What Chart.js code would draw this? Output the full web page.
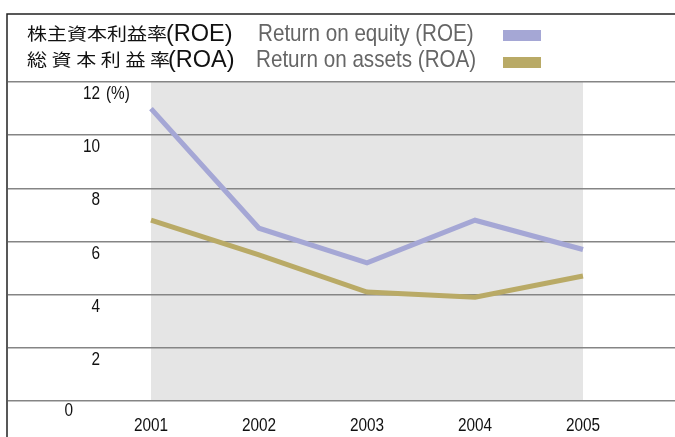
<!DOCTYPE html>
<html>
<head>
<meta charset="utf-8">
<script src="https://cdn.jsdelivr.net/npm/chart.js@4/dist/chart.umd.min.js"></script>
<style>
  html, body { margin: 0; padding: 0; background: #fff; }
  #wrap { position: relative; width: 675px; height: 437px; overflow: hidden; }
  canvas { position: absolute; left: 0; top: 0; }
  .lg { position: absolute; white-space: nowrap; line-height: 26px; transform-origin: 0 50%; }
  .en { font-family: "Liberation Sans", sans-serif; font-size: 24px; transform: scaleX(0.86); }
  .jp { font-family: "Noto Sans CJK JP", sans-serif; font-size: 20px; color: #111; transform: scaleY(0.85); }
  .gray { color: #666; }
  .dark { color: #111; transform: scaleX(0.98); }
  .sw { position: absolute; width: 38px; height: 11px; }
</style>
</head>
<body>
<div id="wrap">
  <canvas id="chart" width="675" height="437"></canvas>
  <div class="lg jp" style="left:27px; top:20px;">株主資本利益率</div>
  <div class="lg en dark" style="left:166px; top:20px;">(ROE)</div>
  <div class="lg en gray" style="left:258px; top:20px;">Return on equity (ROE)</div>
  <div class="sw" style="left:503px; top:30px; background:#a5a7d5;"></div>
  <div class="lg jp" style="left:27px; top:46px; letter-spacing:4.6px;">総資本利益率</div>
  <div class="lg en dark" style="left:168px; top:46px;">(ROA)</div>
  <div class="lg en gray" style="left:256px; top:46px;">Return on assets (ROA)</div>
  <div class="sw" style="left:503px; top:57px; background:#b9aa66;"></div>
</div>
<script>
const years = [2001, 2002, 2003, 2004, 2005];
const roe = [11.0, 6.5, 5.2, 6.8, 5.7];
const roa = [6.8, 5.5, 4.1, 3.9, 4.7];
const yTicks = [0, 2, 4, 6, 8, 10, 12];

const roeColor = '#a5a7d5';
const roaColor = '#b9aa66';
const labelFont = '18.5px "Liberation Sans", sans-serif';
const squeeze = 0.83;

// condensed text: draw with a horizontal squeeze around the anchor point
function narrowText(ctx, text, x, y, align) {
    ctx.save();
    ctx.translate(x, y);
    ctx.scale(squeeze, 1);
    ctx.textAlign = align;
    ctx.fillText(text, 0, 0);
    ctx.restore();
}

const frame = {
    id: 'frame',
    beforeDraw(chart) {
        const { ctx, chartArea, scales } = chart;
        const x0 = scales.x.getPixelForValue(years[0]);
        const x1 = scales.x.getPixelForValue(years[years.length - 1]);
        ctx.save();
        ctx.fillStyle = '#e5e5e5';
        ctx.fillRect(x0, chartArea.top, x1 - x0, chartArea.bottom - chartArea.top);
        ctx.restore();
    },
    afterDraw(chart) {
        const { ctx, scales } = chart;
        ctx.save();
        ctx.font = labelFont;
        ctx.fillStyle = '#111';
        ctx.textBaseline = 'middle';
        yTicks.forEach(v => {
            const y = scales.y.getPixelForValue(v);
            if (v === 0) {
                narrowText(ctx, '0', 73, y + 10, 'right');
            } else {
                narrowText(ctx, String(v), 100, y + 12, 'right');
                if (v === 12) narrowText(ctx, '(%)', 106, y + 12, 'left');
            }
        });
        years.forEach(v => {
            narrowText(ctx, String(v), scales.x.getPixelForValue(v), 426, 'center');
        });
        // outer frame
        ctx.strokeStyle = '#222';
        ctx.lineWidth = 1.5;
        ctx.beginPath();
        ctx.moveTo(7, 437);
        ctx.lineTo(7, 14);
        ctx.lineTo(675, 14);
        ctx.stroke();
        ctx.restore();
    }
};

function series(vals) {
    return vals.map((v, i) => ({ x: years[i], y: v }));
}

new Chart(document.getElementById('chart'), {
    type: 'line',
    data: {
        datasets: [
            { label: 'ROE', data: series(roe), borderColor: roeColor, borderWidth: 5, pointRadius: 0, tension: 0 },
            { label: 'ROA', data: series(roa), borderColor: roaColor, borderWidth: 5, pointRadius: 0, tension: 0 }
        ]
    },
    options: {
        responsive: false,
        animation: false,
        layout: { padding: { left: 8, top: 82, right: 0, bottom: 36 } },
        plugins: { legend: { display: false }, tooltip: { enabled: false } },
        scales: {
            x: {
                type: 'linear',
                display: false,
                min: 1999.676,
                max: 2005.852
            },
            y: {
                min: 0,
                max: 12,
                afterBuildTicks: s => { s.ticks = yTicks.map(v => ({ value: v })); },
                grid: { color: '#858585', lineWidth: 1.5, drawTicks: false },
                border: { display: false },
                ticks: { display: false }
            }
        }
    },
    plugins: [frame]
});
</script>
</body>
</html>
